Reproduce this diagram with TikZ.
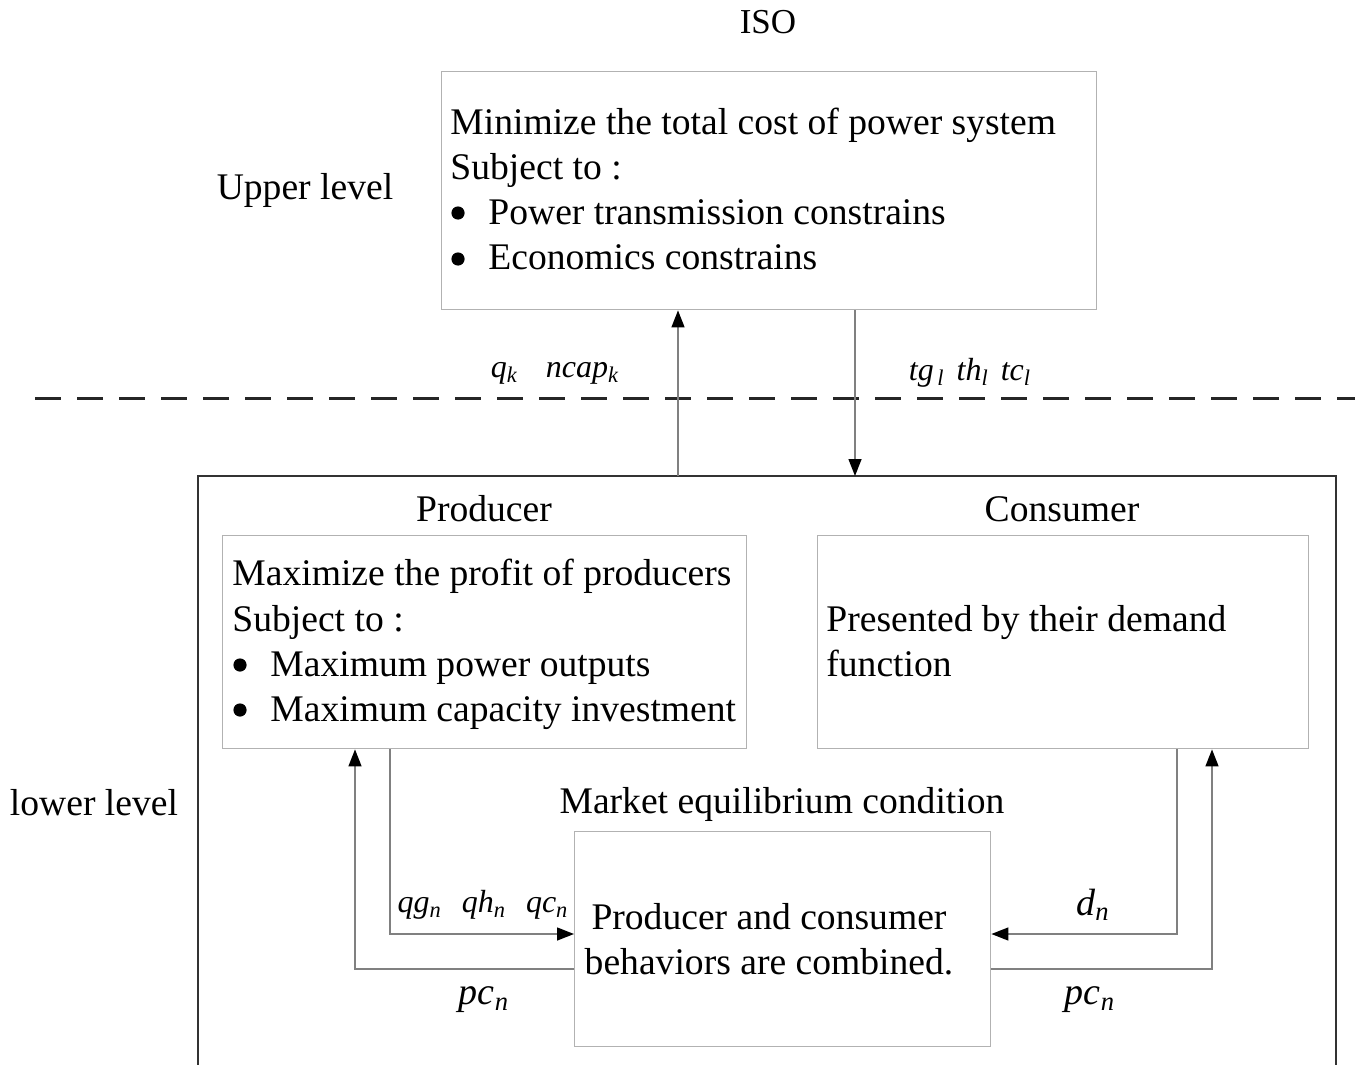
\documentclass[tikz,border=0pt]{standalone}
\usepackage{fontspec}
\setmainfont{Liberation Serif}
\usetikzlibrary{arrows.meta}
\newcommand\vsub[2]{\textit{#1}\textsubscript{\textit{#2}}}
\newcommand\bulgap{\hspace*{19pt}}
\begin{document}
\begin{tikzpicture}[x=0.5pt,y=-0.5pt,
  txt/.style={font=\fontsize{18.8pt}{22.6pt}\selectfont, inner sep=0pt},
  btxt/.style={txt, anchor=west, align=left},
  lbl/.style={font=\fontsize{16pt}{19pt}\selectfont\itshape, inner sep=0pt},
  lblbig/.style={font=\fontsize{19pt}{22pt}\selectfont\itshape, inner sep=0pt},
  boxa/.style={draw=black!30, line width=0.7pt, anchor=north west, inner sep=0pt},
  bulletdot/.style={fill=black},
  conn/.style={draw=black!50, line width=0.7pt},
  arr/.style={conn, -{Triangle[length=8.5pt,width=6.5pt,fill=black,color=black]}},
  outer/.style={draw=black!80, line width=1.3pt},
  dashline/.style={draw=black!85, line width=1.5pt, dash pattern=on 13pt off 8pt}
]
\useasboundingbox (0,0) rectangle (1355,1065);

% labels
\node[txt, font=\fontsize{17.5pt}{20pt}\selectfont] (isolbl) at (768,22) {ISO};
\node[txt] (upper) at (305,190) {Upper level};
\node[txt] (lower) at (94,803) {lower level};

% ISO box
\node[boxa, minimum width=327.5pt, minimum height=119pt] (iso) at (441,71) {};
\node[btxt] (isotext) at (450,189)
  {Minimize the total cost of power system\\
   Subject to :\\
   \bulgap Power transmission constrains\\
   \bulgap Economics constrains};
\fill[bulletdot] (458,213) circle (3.3pt);
\fill[bulletdot] (458,259) circle (3.3pt);

% dashed separator
\coordinate (dl) at (35,398);
\coordinate (dr) at (1355,398);
\draw[dashline] (dl) -- (dr);

% outer box (open at bottom, runs past page edge)
\coordinate (obl) at (198,1075);
\coordinate (otl) at (198,476);
\coordinate (otr) at (1336,476);
\coordinate (obr) at (1336,1075);
\draw[outer] (obl) -- (otl) -- (otr) -- (obr);

% up/down arrows between levels
\coordinate (upx) at (678,476);
\coordinate (dnx) at (855,476);
\draw[arr] (upx) -- (upx |- iso.south);
\draw[arr] (dnx |- iso.south) -- (dnx);

\node[lbl] (qlbl) at (555,373) {\vsub{q}{k}\hspace{14pt}\vsub{ncap}{k}};
\node[lbl] (tlbl) at (970,373) {\vsub{tg}{\,l}\hspace{6pt}\vsub{th}{l}\hspace{6pt}\vsub{tc}{l}};

% producer / consumer
\node[txt] (prodt) at (484,509) {Producer};
\node[txt] (const) at (1062,509) {Consumer};

\node[boxa, minimum width=262pt, minimum height=106.5pt] (prod) at (222,535) {};
\node[btxt] (prodtext) at (232,644.5)
  {Maximize the profit of producers\\
   Subject to :\\
   \bulgap Maximum power outputs\\
   \bulgap Maximum capacity investment};
\fill[bulletdot] (240,665) circle (3.3pt);
\fill[bulletdot] (240,710) circle (3.3pt);

\node[boxa, minimum width=245.5pt, minimum height=106.5pt] (cons) at (817,535) {};
\node[btxt] (constext) at (826,641) {Presented by their demand\\ function};

% market
\node[txt] (markt) at (782,804) {Market equilibrium condition};
\node[boxa, minimum width=208pt, minimum height=107.5pt] (market) at (574,831) {};
\node[txt, align=center] (mtext) at (769,939) {Producer and consumer\\ behaviors are combined.};

% lower connectors
\coordinate (a1) at (390,934);
\coordinate (a2) at (355,969);
\coordinate (a3) at (1177,934);
\coordinate (a4) at (1212,969);
\draw[arr] (a1 |- prod.south) |- (a1 -| market.west);
\draw[arr] (a2 -| market.west) -| (a2 |- prod.south);
\draw[arr] (a3 |- cons.south) |- (a3 -| market.east);
\draw[arr] (a4 -| market.east) -| (a4 |- cons.south);

\node[lbl] (qglbl) at (483,905) {\vsub{qg}{n}\hspace{10pt}\vsub{qh}{n}\hspace{10pt}\vsub{qc}{n}};
\node[lblbig] (pcl) at (484,1000) {\vsub{pc}{n}};
\node[lblbig] (dlbl) at (1093,905) {\vsub{d}{n}};
\node[lblbig] (pcr) at (1090,1000) {\vsub{pc}{n}};
\end{tikzpicture}
\end{document}
